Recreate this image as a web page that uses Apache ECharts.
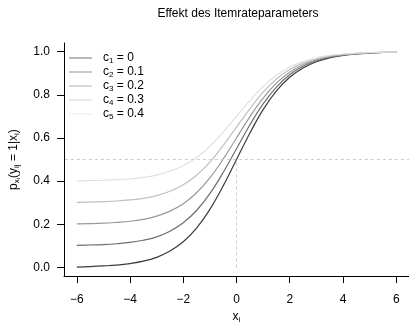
<!DOCTYPE html>
<html>
<head>
<meta charset="utf-8">
<script src="https://cdn.jsdelivr.net/npm/echarts@6/dist/echarts.min.js"></script>
<style>
  html, body { margin: 0; padding: 0; background: #fff; }
  #chart { width: 409px; height: 329px; }
</style>
</head>
<body>
<div id="chart"></div>
<script>
// x positions of the read-off points
const xs = [-6, -5.5, -5, -4.5, -4, -3.5, -3, -2.5, -2, -1.5, -1, -0.5, 0,
  0.5, 1, 1.5, 2, 2.5, 3, 3.5, 4, 4.5, 5, 5.5, 6]

// curve values, one array per guessing parameter
const c1 = [0.002, 0.004, 0.007, 0.011, 0.018, 0.029, 0.047, 0.076, 0.119, 0.182, 0.269, 0.378, 0.5,
  0.622, 0.731, 0.818, 0.881, 0.924, 0.953, 0.971, 0.982, 0.989, 0.993, 0.996, 0.998]
const c2 = [0.102, 0.104, 0.106, 0.110, 0.116, 0.126, 0.142, 0.168, 0.207, 0.264, 0.342, 0.440, 0.550,
  0.660, 0.758, 0.836, 0.893, 0.932, 0.958, 0.974, 0.984, 0.990, 0.994, 0.996, 0.998]
const c3 = [0.202, 0.203, 0.205, 0.209, 0.214, 0.223, 0.238, 0.261, 0.295, 0.346, 0.415, 0.502, 0.600,
  0.698, 0.785, 0.854, 0.905, 0.939, 0.962, 0.977, 0.986, 0.991, 0.995, 0.997, 0.998]
const c4 = [0.302, 0.303, 0.305, 0.308, 0.313, 0.320, 0.333, 0.353, 0.383, 0.427, 0.488, 0.565, 0.650,
  0.735, 0.812, 0.873, 0.917, 0.947, 0.967, 0.980, 0.987, 0.992, 0.995, 0.997, 0.998]
const c5 = [0.401, 0.402, 0.404, 0.407, 0.411, 0.417, 0.428, 0.446, 0.471, 0.509, 0.561, 0.627, 0.700,
  0.773, 0.839, 0.891, 0.929, 0.954, 0.971, 0.983, 0.989, 0.993, 0.996, 0.998, 0.999]

const seriesNames = ["c1", "c2", "c3", "c4", "c5"]
const seriesValues = [c1, c2, c3, c4, c5]
const cLabels = ["0", "0.1", "0.2", "0.3", "0.4"]
const colors = ["#3c3c3c", "#6e6e6e", "#999999", "#c0c0c0", "#e0e0e0"]
// the key's thin strokes look paler than the curves
const legendColors = ["#707070", "#959595", "#b5b5b5", "#d5d5d5", "#ebebeb"]

const xTicks = [-6, -4, -2, 0, 2, 4, 6]
const yTicks = [0, 0.2, 0.4, 0.6, 0.8, 1.0]

const font = "'Liberation Sans', Arial, sans-serif"
const richText = {
  n: { fontSize: 12, fontFamily: font, color: "#000", lineHeight: 14 },
  s: { fontSize: 8, fontFamily: font, color: "#000", lineHeight: 6, verticalAlign: "bottom" },
  ss: { fontSize: 6, fontFamily: font, color: "#000", lineHeight: 2, verticalAlign: "bottom" }
}

const series = seriesNames.map((name, i) => ({
  name: name,
  type: "line",
  smooth: 0.4,
  symbol: "none",
  silent: true,
  lineStyle: { color: colors[i], width: 1.2 },
  itemStyle: { color: colors[i] },
  data: xs.map((x, k) => [x, seriesValues[i][k]])
}))

// dashed reference lines at p = 0.5 and x = 0
series[0].markLine = {
  silent: true,
  symbol: "none",
  label: { show: false },
  lineStyle: { color: "#cccccc", type: [3, 3], width: 1 },
  data: [
    [{ coord: [-6.45, 0.5] }, { coord: [6.48, 0.5] }],
    [{ coord: [0, 0] }, { coord: [0, 0.5] }]
  ]
}

const chart = echarts.init(document.getElementById("chart"), null, { renderer: "canvas" })
chart.setOption({
  animation: false,
  backgroundColor: "#fff",
  title: {
    text: "Effekt des Itemrateparameters",
    left: 233,
    textAlign: "center",
    top: 3,
    textStyle: { fontSize: 12, fontWeight: "normal", fontFamily: font, color: "#000" }
  },
  legend: {
    orient: "vertical",
    left: 69,
    top: 52,
    padding: 0,
    itemGap: 1,
    itemWidth: 23,
    itemHeight: 1,
    icon: "rect",
    data: seriesNames.map((name, i) => ({ name: name, itemStyle: { color: legendColors[i] } })),
    formatter: (name) => {
      const i = seriesNames.indexOf(name)
      return "{n|c}{s|" + (i + 1) + "}{n| = " + cLabels[i] + "}"
    },
    textStyle: { padding: [0, 0, 0, 6], rich: richText }
  },
  grid: { left: 57, right: 0, top: 43, bottom: 42 },
  xAxis: {
    type: "value",
    min: -6.48,
    max: 6.48,
    name: "{n|x}{s|i}",
    nameLocation: "middle",
    nameGap: 32,
    nameTextStyle: { rich: richText },
    axisLine: { onZero: false, lineStyle: { color: "#000", width: 1 } },
    axisTick: { customValues: xTicks, length: 7, lineStyle: { color: "#000" } },
    axisLabel: {
      customValues: xTicks,
      margin: 18,
      fontSize: 12,
      fontFamily: font,
      color: "#000",
      formatter: (v) => String(v).replace("-", "\u2212")
    },
    splitLine: { show: false }
  },
  yAxis: {
    type: "value",
    min: -0.04,
    max: 1.04,
    name: "{n|p}{s|x}{ss|i}{n|(y}{s|ij}{n| = 1|x}{s|i}{n|)}",
    nameLocation: "middle",
    nameRotate: 90,
    nameGap: 43,
    nameTextStyle: { rich: richText },
    axisLine: { show: true, onZero: false, lineStyle: { color: "#000", width: 1 } },
    axisTick: { show: true, customValues: yTicks, length: 7, lineStyle: { color: "#000" } },
    axisLabel: {
      customValues: yTicks,
      margin: 14,
      fontSize: 12,
      fontFamily: font,
      color: "#000",
      formatter: (v) => v.toFixed(1)
    },
    splitLine: { show: false },
    z: 5
  },
  series: series
})
</script>
</body>
</html>
